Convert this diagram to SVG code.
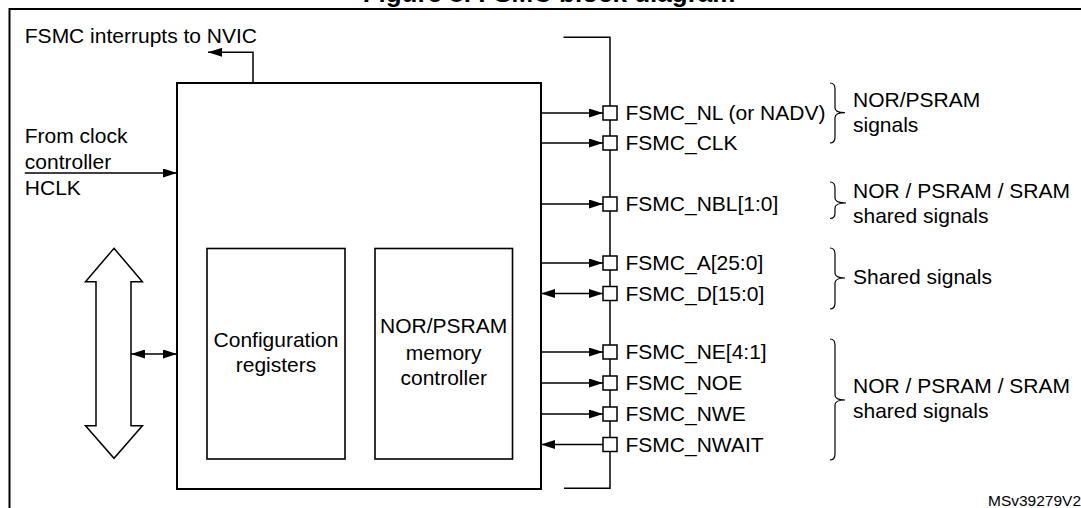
<svg xmlns="http://www.w3.org/2000/svg" width="1081" height="508" viewBox="0 0 1081 508">
<style>
text{font-family:"Liberation Sans",Arial,sans-serif;font-size:21px;fill:#000}
.t{font-weight:bold;font-size:26px}
.c{text-anchor:middle}
.id{font-size:15.5px}
.box{fill:#fff;stroke:#000;stroke-width:2}
.ib{fill:#fff;stroke:#000;stroke-width:1.6}
.ln{fill:none;stroke:#000;stroke-width:1.5}
.pad{fill:#fff;stroke:#000;stroke-width:1.5}
.br{fill:none;stroke:#000;stroke-width:1.2}
</style>
<defs>
<marker id="ah" markerUnits="userSpaceOnUse" markerWidth="14" markerHeight="9" refX="14" refY="4.5" orient="auto-start-reverse" viewBox="0 0 14 9">
<path d="M0,0 L14,4.5 L0,9 z" fill="#000"/>
</marker>
</defs>
<rect width="1081" height="508" fill="#fff"/>
<text class="t c" x="549" y="2">Figure 8. FSMC block diagram</text>
<g id="frame"><path d="M9.5,508 V9 H1081" fill="none" stroke="#000" stroke-width="2"/></g>

<g id="fsmc">
<rect class="box" x="177" y="83" width="364" height="406"/>
</g>
<g id="config-registers">
<rect class="ib" x="207" y="248.5" width="138" height="210.5"/>
<text class="c" x="276" y="346.7">Configuration</text>
<text class="c" x="276" y="372.3">registers</text>
</g>
<g id="nor-controller">
<rect class="ib" x="375" y="248.5" width="137.5" height="210.5"/>
<text class="c" x="443.7" y="333.3">NOR/PSRAM</text>
<text class="c" x="443.7" y="360">memory</text>
<text class="c" x="443.7" y="385">controller</text>
</g>
<g id="ahb-bus">
<polygon points="114,248.3 142.4,281.7 131,281.7 131,425.7 142.4,425.7 114,458.3 85.5,425.7 96,425.7 96,281.7 85.5,281.7" fill="#fff" stroke="#000" stroke-width="1.5"/>
</g>
<g id="labels-left">
<text x="24.8" y="43.3">FSMC interrupts to NVIC</text>
<text x="24.8" y="143.3">From clock</text>
<text x="24.8" y="169">controller</text>
<text x="24.8" y="194.5">HCLK</text>
</g>

<g id="connectors">
<path class="ln" d="M253,83 V52.3 H208" marker-end="url(#ah)"/>
<path class="ln" d="M24.8,173 H177" marker-end="url(#ah)"/>
<path class="ln" d="M131,354 H177" marker-start="url(#ah)" marker-end="url(#ah)"/>
<path class="ln" d="M563.5,37.3 H610 V488.3 H564"/>
<path class="ln" d="M541,113 H603" marker-end="url(#ah)"/>
<path class="ln" d="M541,143 H603" marker-end="url(#ah)"/>
<path class="ln" d="M541,204 H603" marker-end="url(#ah)"/>
<path class="ln" d="M541,263 H603" marker-end="url(#ah)"/>
<path class="ln" d="M541,293.5 H603" marker-start="url(#ah)" marker-end="url(#ah)"/>
<path class="ln" d="M541,352 H603" marker-end="url(#ah)"/>
<path class="ln" d="M541,383 H603" marker-end="url(#ah)"/>
<path class="ln" d="M541,414 H603" marker-end="url(#ah)"/>
<path class="ln" d="M603,444.5 H541" marker-end="url(#ah)"/>
</g>

<g id="pads">
<rect class="pad" x="603" y="106" width="14" height="14"/>
<rect class="pad" x="603" y="136" width="14" height="14"/>
<rect class="pad" x="603" y="197" width="14" height="14"/>
<rect class="pad" x="603" y="256" width="14" height="14"/>
<rect class="pad" x="603" y="286.5" width="14" height="14"/>
<rect class="pad" x="603" y="345" width="14" height="14"/>
<rect class="pad" x="603" y="376" width="14" height="14"/>
<rect class="pad" x="603" y="407" width="14" height="14"/>
<rect class="pad" x="603" y="437.5" width="14" height="14"/>
</g>
<g id="signal-labels">
<text x="625.5" y="120">FSMC_NL (or NADV)</text>
<text x="625.5" y="150">FSMC_CLK</text>
<text x="625.5" y="211">FSMC_NBL[1:0]</text>
<text x="625.5" y="270">FSMC_A[25:0]</text>
<text x="625.5" y="300.5">FSMC_D[15:0]</text>
<text x="625.5" y="359">FSMC_NE[4:1]</text>
<text x="625.5" y="390">FSMC_NOE</text>
<text x="625.5" y="421">FSMC_NWE</text>
<text x="625.5" y="451.5">FSMC_NWAIT</text>
</g>
<g id="group-nor-psram">
<path class="br" d="M830,83 Q835,83 835,89 V107.7 Q835,112.7 845,112.7 Q835,112.7 835,117.7 V137 Q835,143 830,143"/>
<text x="853" y="106.7">NOR/PSRAM</text>
<text x="853" y="131.7">signals</text>
</g>
<g id="group-nbl">
<path class="br" d="M830,182 Q835,182 835,188 V198 Q835,203 846,203 Q835,203 835,208 V213 Q835,218.5 830,218.5"/>
<text x="853" y="197.5">NOR / PSRAM / SRAM</text>
<text x="853" y="222.7">shared signals</text>
</g>
<g id="group-shared">
<path class="br" d="M830,248 Q835,248 835,254 V273 Q835,278 845,278 Q835,278 835,283 V303 Q835,309 830,309"/>
<text x="853" y="283.5">Shared signals</text>
</g>
<g id="group-nor-psram-sram">
<path class="br" d="M830,339 Q835,339 835,345 V395 Q835,400 845,400 Q835,400 835,405 V454 Q835,460 830,460"/>
<text x="853" y="393.3">NOR / PSRAM / SRAM</text>
<text x="853" y="418.3">shared signals</text>
</g>
<text class="id" x="988" y="506">MSv39279V2</text>
</svg>
